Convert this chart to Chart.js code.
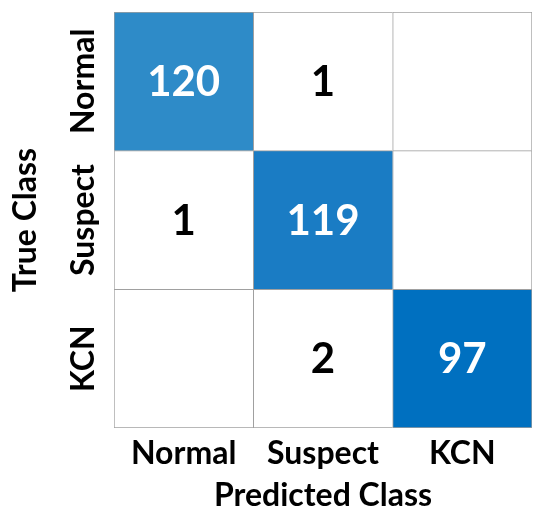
<!DOCTYPE html>
<html lang="en">
<head>
    <meta charset="UTF-8">
    <script src="https://cdn.jsdelivr.net/npm/chart.js"></script>
    <style>
      body { margin: 0; background: #fff; }
      #box { width: 550px; height: 520px; }
    </style>
</head>
<body>
  <div id="box">
    <canvas id="myChart"></canvas>
  </div>
<script>
    // confusion matrix values (rows = true class, columns = predicted class)
    const predictedClasses = ["Normal", "Suspect", "KCN"]
    const trueClasses = ["Normal", "Suspect", "KCN"]
    const normalRow = [120, 1, 0]
    const suspectRow = [1, 119, 0]
    const kcnRow = [0, 2, 97]

    // fill colours of the cells, same layout as the rows
    const normalColors = ["#2e8bc8", "#ffffff", "#ffffff"]
    const suspectColors = ["#ffffff", "#1a7cc4", "#ffffff"]
    const kcnColors = ["#ffffff", "#ffffff", "#0070c0"]

    const font = "Lato"
    const lineColor = "#a0a0a0"

    // bars are stacked bottom-up, so the last true class goes first
    const rows = [kcnRow, suspectRow, normalRow]
    const rowColors = [kcnColors, suspectColors, normalColors]

    const datasets = rows.map((row, i) => ({
      label: trueClasses[2 - i],
      data: row.map(() => 1),
      counts: row,
      backgroundColor: rowColors[i],
      borderColor: lineColor,
      borderSkipped: false,
      borderWidth: (ctx) => ({
        top: 1,
        left: 1,
        right: ctx.dataIndex === 2 ? 1 : 0,
        bottom: ctx.datasetIndex === 0 ? 1 : 0
      }),
      barPercentage: 1,
      categoryPercentage: 1
    }))

    // writes the count in the middle of each cell
    const cellText = {
      id: "cellText",
      afterDatasetsDraw(chart) {
        const c = chart.ctx
        c.save()
        c.textAlign = "center"
        c.textBaseline = "middle"
        c.font = "bold 42px " + font
        chart.data.datasets.forEach((ds, di) => {
          chart.getDatasetMeta(di).data.forEach((bar, i) => {
            const n = ds.counts[i]
            if (!n) return
            const p = bar.getCenterPoint()
            c.fillStyle = n > 50 ? "#ffffff" : "#000000"
            c.fillText(String(n), p.x, p.y + 1)
          })
        })
        c.restore()
      }
    }

    const ctx = document.getElementById("myChart")
    new Chart(ctx, {
      type: "bar",
      data: { labels: predictedClasses, datasets: datasets },
      options: {
        responsive: true,
        maintainAspectRatio: false,
        animation: false,
        layout: { padding: { top: 12, right: 18, left: 0, bottom: 0 } },
        plugins: {
          legend: { display: false },
          tooltip: { enabled: false }
        },
        scales: {
          x: {
            stacked: true,
            grid: { display: false, drawTicks: false },
            border: { display: false },
            afterFit: (axis) => {
              axis.height = 92
              axis.paddingLeft = 0
              axis.paddingRight = 0
            },
            ticks: {
              color: "#000",
              padding: 6,
              font: { family: font, size: 32, weight: "bold" }
            },
            title: {
              display: true,
              text: "Predicted Class",
              color: "#000",
              padding: { top: 0, bottom: 5 },
              font: { family: font, size: 32, weight: "bold" }
            }
          },
          y: {
            stacked: true,
            min: 0,
            max: 3,
            grid: { display: false, drawTicks: false },
            border: { display: false },
            afterBuildTicks: (axis) => {
              axis.ticks = [{ value: 0.5 }, { value: 1.5 }, { value: 2.5 }]
            },
            afterFit: (axis) => {
              axis.width = 114
              axis.paddingTop = 0
              axis.paddingBottom = 0
            },
            ticks: {
              color: "#000",
              padding: -26,
              minRotation: 90,
              maxRotation: 90,
              crossAlign: "center",
              callback: (value) => trueClasses[2 - Math.floor(value)],
              font: { family: font, size: 32, weight: "bold" }
            },
            title: {
              display: true,
              text: "True Class",
              color: "#000",
              padding: { top: 6, bottom: 0 },
              font: { family: font, size: 32, weight: "bold" }
            }
          }
        }
      },
      plugins: [cellText]
    })
</script>
</body>
</html>
